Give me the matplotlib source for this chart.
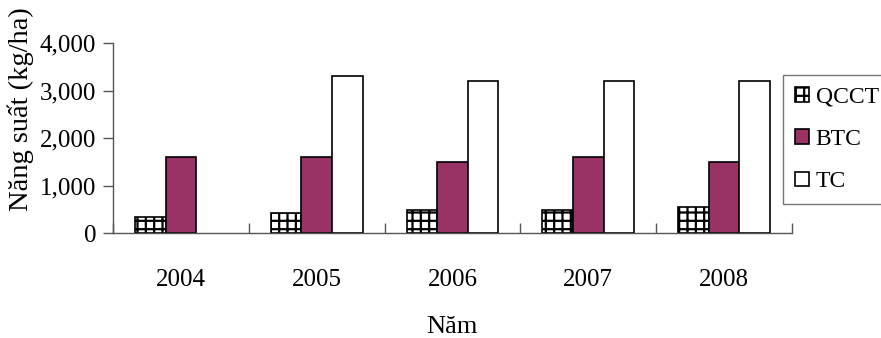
import numpy as np
import matplotlib as mpl
from matplotlib import pyplot as plt
from matplotlib.patches import Patch

mpl.rcParams['font.family'] = ['Liberation Serif', 'DejaVu Serif']
mpl.rcParams['hatch.linewidth'] = 1.6

years = ['2004', '2005', '2006', '2007', '2008']
series_names = ['QCCT', 'BTC', 'TC']
qcct = [340, 430, 490, 490, 550]
btc = [1600, 1600, 1500, 1600, 1500]
tc = [0, 3300, 3200, 3200, 3200]

fig = plt.figure(figsize=(8.81, 3.38), dpi=100)
ax = fig.add_axes([113 / 881., 105 / 338., 679 / 881., 190 / 338.])

x = np.arange(len(years))
w = 0.225
ax.bar(x - w, qcct, w, facecolor='white', edgecolor='black', hatch='++', linewidth=1.2)
ax.bar(x, btc, w, facecolor='#993366', edgecolor='black', linewidth=1.2)
bars = ax.bar(x + w, tc, w, facecolor='white', edgecolor='black', linewidth=1.2)
# an empty bar (value 0) shows no outline in the original
for p, v in zip(bars, tc):
    if v == 0:
        p.set_linewidth(0)

ax.set_xlim(-0.5, len(years) - 0.5)
ax.set_ylim(0, 4000)
ax.set_yticks([0, 1000, 2000, 3000, 4000])
ax.set_yticklabels(['0', '1,000', '2,000', '3,000', '4,000'], fontsize=18)
ax.tick_params(axis='y', direction='out', length=7, width=1, color='#555555', pad=5)

ax.set_xticks(x)
ax.set_xticklabels(years, fontsize=18)
ax.tick_params(axis='x', which='major', length=0, pad=26)
ax.set_xticks(np.arange(len(years) + 1) - 0.5, minor=True)
ax.tick_params(axis='x', which='minor', direction='in', length=7, width=1, color='#555555')

for s in ['top', 'right']:
    ax.spines[s].set_visible(False)
for s in ['left', 'bottom']:
    ax.spines[s].set_color('#555555')
    ax.spines[s].set_linewidth(1)

fig.text(452 / 881., 11 / 338., 'Năm', fontsize=19, ha='center', va='center')
fig.text(21 / 881., 1 - 109 / 338., 'Năng suất (kg/ha)', fontsize=20.5, rotation=90,
         ha='center', va='center')

handles = [Patch(facecolor='white', edgecolor='black', hatch='++', linewidth=1.2),
           Patch(facecolor='#993366', edgecolor='black', linewidth=1.2),
           Patch(facecolor='white', edgecolor='black', linewidth=1.2)]
leg = ax.legend(handles, series_names, loc='upper left', bbox_to_anchor=(783 / 881., 1 - 75 / 338.),
                bbox_transform=fig.transFigure, fontsize=17, frameon=True, fancybox=False,
                handlelength=0.58, handleheight=0.58, handletextpad=0.3,
                labelspacing=0.9, borderpad=0.5, borderaxespad=0)
leg.get_frame().set_edgecolor('#555555')
leg.get_frame().set_linewidth(1)

fig.savefig('out.png', dpi=100)
